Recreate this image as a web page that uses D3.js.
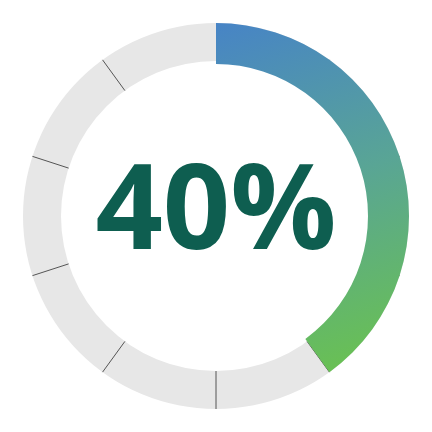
<!DOCTYPE html>
<html>
<head>
<meta charset="utf-8">
<script src="https://cdn.jsdelivr.net/npm/d3@7"></script>
<style>
  body { margin: 0; background: #fff; }
</style>
</head>
<body>
<svg id="gauge" width="432" height="432"></svg>
<script>
// gauge data
const percentValue = 40;
const gaugeDomain = [0, 100];
const tickValues = [10, 20, 30, 40, 50, 60, 70, 80, 90];
const labelText = "40%";

const svg = d3.select("#gauge");
const cx = 216, cy = 216;
const outerR = 193, innerR = 155, barInnerR = 152;

const angle = d3.scaleLinear().domain(gaugeDomain).range([0, 2 * Math.PI]);

// gradient runs from the top of the ring to the end of the value arc
const endA = angle(percentValue);
const grad = svg.append("defs").append("linearGradient")
    .attr("id", "arcGrad")
    .attr("gradientUnits", "userSpaceOnUse")
    .attr("x1", 0).attr("y1", -outerR)
    .attr("x2", outerR * Math.sin(endA)).attr("y2", -outerR * Math.cos(endA));
grad.append("stop").attr("offset", "0%").attr("stop-color", "#4784c6");
grad.append("stop").attr("offset", "50%").attr("stop-color", "#59a595");
grad.append("stop").attr("offset", "100%").attr("stop-color", "#69c054");

const g = svg.append("g").attr("transform", `translate(${cx},${cy})`);

// background ring
g.append("path")
 .attr("d", d3.arc().innerRadius(innerR).outerRadius(outerR)
   .startAngle(angle(gaugeDomain[0])).endAngle(angle(gaugeDomain[1]))())
 .attr("fill", "#e7e7e7");

// tick separators
g.selectAll("line.tick").data(tickValues)
 .join("line")
 .attr("class", "tick")
 .attr("x1", d => innerR * Math.sin(angle(d)))
 .attr("y1", d => -innerR * Math.cos(angle(d)))
 .attr("x2", d => outerR * Math.sin(angle(d)))
 .attr("y2", d => -outerR * Math.cos(angle(d)))
 .attr("stroke", "#555")
 .attr("stroke-width", 1);

// value arc
const valueArc = d3.arc().innerRadius(barInnerR).outerRadius(outerR)
  .startAngle(angle(0)).endAngle(endA);
g.append("path")
 .attr("d", valueArc())
 .attr("fill", "url(#arcGrad)");

// center label
svg.append("text")
 .attr("x", cx)
 .attr("y", 249)
 .attr("text-anchor", "middle")
 .style("font-family", "'Open Sans', sans-serif")
 .style("font-weight", "bold")
 .style("font-size", "118px")
 .attr("fill", "#0e5e50")
 .text(labelText);
</script>
</body>
</html>
